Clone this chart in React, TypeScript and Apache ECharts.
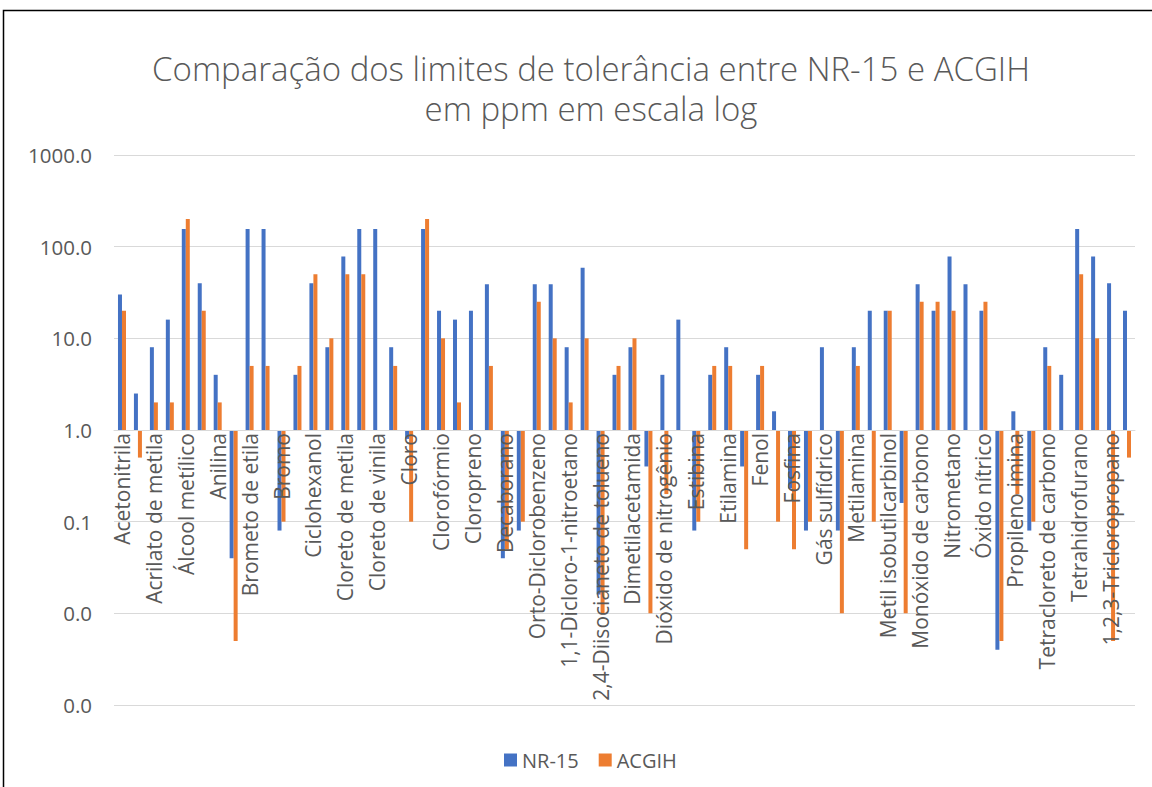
import React, { useEffect, useRef } from "react";
import * as echarts from "echarts";

// Categories (only every other one is labelled in the reference)
const categories: string[] = [
  "Acetonitrila", "",
  "Acrilato de metila", "",
  "Álcool metílico", "",
  "Anilina", "",
  "Brometo de etila", "",
  "Bromo", "",
  "Ciclohexanol", "",
  "Cloreto de metila", "",
  "Cloreto de vinila", "",
  "Cloro", "",
  "Clorofórmio", "",
  "Cloropreno", "",
  "Decaborano", "",
  "Orto-Diclorobenzeno", "",
  "1,1-Dicloro-1-nitroetano", "",
  "2,4-Diisocianeto de tolueno", "",
  "Dimetilacetamida", "",
  "Dióxido de nitrogênio", "",
  "Estibina", "",
  "Etilamina", "",
  "Fenol", "",
  "Fosfina", "",
  "Gás sulfídrico", "",
  "Metilamina", "",
  "Metil isobutilcarbinol", "",
  "Monóxido de carbono", "",
  "Nitrometano", "",
  "Óxido nítrico", "",
  "Propileno imina", "",
  "Tetracloreto de carbono", "",
  "Tetrahidrofurano", "",
  "1,2,3-Tricloropropano", "",
];

const nr15: number[] = [
  30, 2.5, 8, 16, 156, 40, 4, 0.04,
  156, 156, 0.08, 4, 40, 8, 78, 156,
  156, 8, 0.8, 156, 20, 16, 20, 39,
  0.04, 0.08, 39, 39, 8, 59, 0.016, 4,
  8, 0.4, 4, 16, 0.08, 4, 8, 0.4,
  4, 1.6, 0.23, 0.08, 8, 0.08, 8, 20,
  20, 0.16, 39, 20, 78, 39, 20, 0.004,
  1.6, 0.08, 8, 4, 156, 78, 40, 20,
];

const acgih: number[] = [
  20, 0.5, 2, 2, 200, 20, 2, 0.005,
  5, 5, 0.1, 5, 50, 10, 50, 50,
  1, 5, 0.1, 200, 10, 2, 1, 5,
  0.05, 0.1, 25, 10, 2, 10, 0.01, 5,
  10, 0.01, 0.2, 1, 0.1, 5, 5, 0.05,
  5, 0.1, 0.05, 0.1, 1, 0.01, 5, 0.1,
  20, 0.01, 25, 25, 20, 1, 25, 0.005,
  0.2, 0.1, 5, 1, 50, 10, 0.005, 0.5,
];

const seriesNames = ["NR-15", "ACGIH"];
const titleLines = [
  "Comparação dos limites de tolerância entre NR-15 e ACGIH",
  "em ppm em escala log",
];

const FONT = "'Open Sans', 'Noto Sans', sans-serif";
const TEXT = "#595959";
const GRID = "#D9D9D9";

export default function App() {
  const ref = useRef<HTMLDivElement>(null);

  useEffect(() => {
    if (!ref.current) return;
    const chart = echarts.init(ref.current, undefined, { renderer: "svg" });
    const gridTop = 155;
    const gridBottom = 82;
    const gridHeight = 787 - gridTop - gridBottom;
    const decade = gridHeight / 6;
    chart.setOption({
      animation: false,
      backgroundColor: "#ffffff",
      textStyle: { fontFamily: FONT },
      graphic: [
        {
          type: "rect",
          shape: { x: 3.5, y: 10.5, width: 1200, height: 900 },
          style: { fill: "none", stroke: "#000000", lineWidth: 1.5 },
          silent: true,
        },
        {
          type: "text",
          x: 591,
          y: 68,
          style: {
            text: titleLines[0],
            align: "center",
            verticalAlign: "middle",
            fontSize: 33,
            fontWeight: 300,
            fontFamily: FONT,
            fill: TEXT,
          },
        },
        {
          type: "text",
          x: 591,
          y: 108,
          style: {
            text: titleLines[1],
            align: "center",
            verticalAlign: "middle",
            fontSize: 33,
            fontWeight: 300,
            fontFamily: FONT,
            fill: TEXT,
          },
        },
      ],
      legend: {
        data: seriesNames,
        left: 499,
        top: 745,
        itemWidth: 13,
        itemHeight: 13,
        itemGap: 20,
        icon: "rect",
        textStyle: { fontSize: 20, color: TEXT, fontFamily: FONT },
      },
      grid: {
        left: 114,
        right: 17,
        top: gridTop,
        bottom: gridBottom,
        outerBoundsMode: "none",
      },
      xAxis: {
        type: "category",
        data: categories,
        offset: -3 * decade,
        z: 10,
        axisLine: { show: true, lineStyle: { color: GRID, width: 1 } },
        axisTick: { show: false },
        axisLabel: {
          interval: 0,
          rotate: 90,
          margin: 3,
          fontSize: 21,
          color: TEXT,
          fontFamily: FONT,
        },
        splitLine: { show: false },
      },
      yAxis: {
        type: "log",
        logBase: 10,
        min: 0.001,
        max: 1000,
        interval: 1,
        splitNumber: 6,
        axisLine: { show: false },
        axisTick: { show: false },
        axisLabel: {
          margin: 22,
          fontSize: 20.5,
          color: TEXT,
          fontFamily: FONT,
          formatter: (v: number) => Number(v).toFixed(1),
        },
        splitLine: { show: true, lineStyle: { color: GRID, width: 1 } },
      },
      series: [
        {
          name: seriesNames[0],
          type: "bar",
          data: nr15,
          barWidth: 4,
          barGap: "0%",
          itemStyle: { color: "#4472C4" },
        },
        {
          name: seriesNames[1],
          type: "bar",
          data: acgih,
          barWidth: 4,
          barGap: "0%",
          itemStyle: { color: "#ED7D31" },
        },
      ],
    });
    return () => chart.dispose();
  }, []);

  return (
    <div
      ref={ref}
      style={{ position: "fixed", left: 0, top: 0, width: 1152, height: 787, background: "#fff" }}
    />
  );
}
